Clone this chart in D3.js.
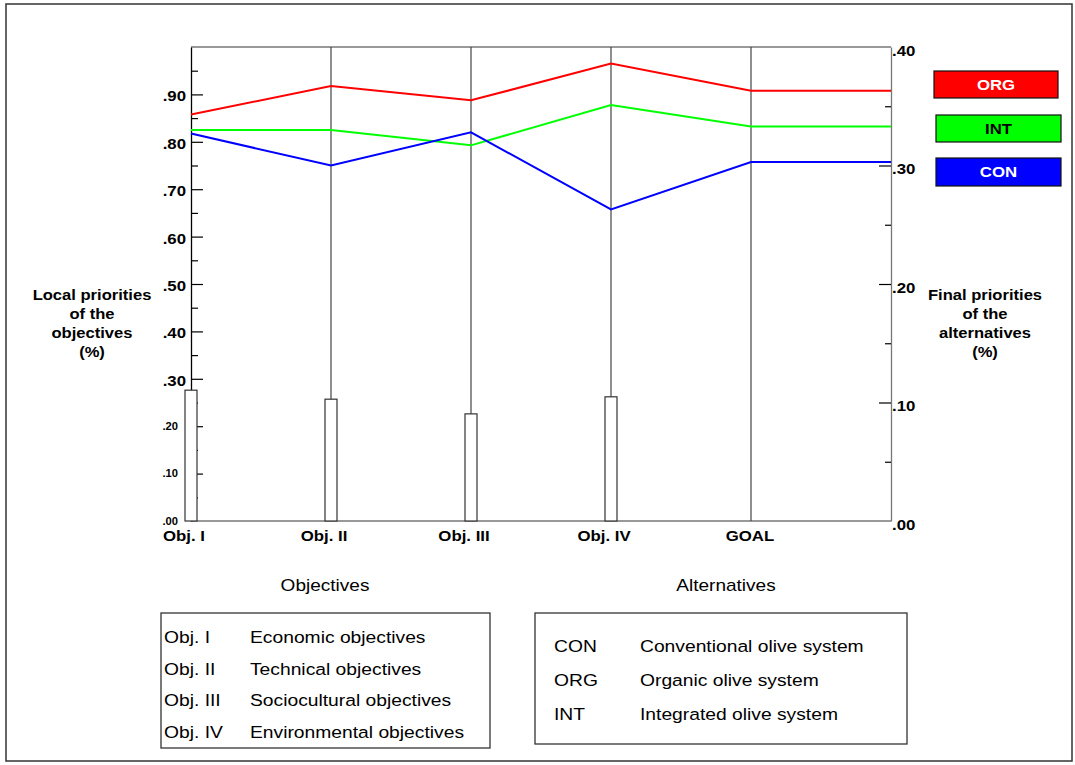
<!DOCTYPE html>
<meta charset="utf-8">
<head>
<style>
  body { margin: 0; background: #fff; }
  svg { display: block; font-family: Arial, "Liberation Sans", sans-serif; }
</style>
</head>
<body>
<div id="chart"></div>
<script src="https://cdn.jsdelivr.net/npm/d3@7"></script>
<script>
// criteria along the x axis (last one is the overall goal)
const criteria = ["Obj. I", "Obj. II", "Obj. III", "Obj. IV", "GOAL"];
// local priorities of the objectives (bars, left scale)
const objWeights = [0.276, 0.257, 0.226, 0.262];
// priorities of the alternatives per criterion (right scale)
const alternatives = ["ORG", "INT", "CON"];
const orgVals = [0.343, 0.367, 0.355, 0.386, 0.363];
const intVals = [0.330, 0.330, 0.317, 0.351, 0.333];
const conVals = [0.327, 0.300, 0.328, 0.263, 0.303];
const altColors = ["#ff0000", "#00ff00", "#0000ff"];
const altTextColors = ["#fff", "#000", "#fff"];

const leftBig = [0.3, 0.4, 0.5, 0.6, 0.7, 0.8, 0.9];
const leftSmall = [0.0, 0.1, 0.2];
const rightTicks = [0.0, 0.1, 0.2, 0.3, 0.4];

const objNames = ["Obj. I", "Obj. II", "Obj. III", "Obj. IV"];
const objDesc = ["Economic objectives", "Technical objectives", "Sociocultural objectives", "Environmental objectives"];
const altCodes = ["CON", "ORG", "INT"];
const altDesc = ["Conventional olive system", "Organic olive system", "Integrated olive system"];

const width = 1075, height = 765;
const K = 1.12; // horizontal stretch of the glyphs in the original
const fmt = v => d3.format(".2f")(v).replace(/^0/, "");

const svg = d3.select("#chart").append("svg")
    .attr("width", width).attr("height", height);

function txt(g, x, y, s, o) {
    return g.append("text")
        .attr("transform", `translate(${x},${y}) scale(${o.k || K},1)`)
        .attr("text-anchor", o.anchor || "start")
        .attr("font-size", o.size)
        .attr("font-weight", o.weight || "normal")
        .attr("fill", o.fill || "#000")
        .text(s);
}

// outer frame
svg.append("rect").attr("x", 6).attr("y", 4).attr("width", 1066).attr("height", 757)
    .attr("fill", "none").attr("stroke", "#333").attr("stroke-width", 1.5);

const x = d3.scaleLinear().domain([0, 5]).range([191, 891]);
const yL = d3.scaleLinear().domain([0, 1]).range([521, 47]);
const yR = d3.scaleLinear().domain([0, 0.4]).range([521, 47]);

// plot box
svg.append("line").attr("x1", 191).attr("x2", 891).attr("y1", 47).attr("y2", 47)
    .attr("stroke", "#777").attr("stroke-width", 1.3);
svg.append("line").attr("x1", 191).attr("x2", 891).attr("y1", 521).attr("y2", 521)
    .attr("stroke", "#777").attr("stroke-width", 1.3);

// vertical criterion lines
svg.append("g").selectAll("line").data(criteria.slice(1)).join("line")
    .attr("x1", (d, i) => x(i + 1)).attr("x2", (d, i) => x(i + 1))
    .attr("y1", 47).attr("y2", 521)
    .attr("stroke", "#444").attr("stroke-width", 1.2);

// left axis ticks (inward)
const leftAxis = svg.append("g").attr("transform", "translate(191,0)")
    .call(d3.axisRight(yL).tickValues(d3.range(1, 10).map(d => d / 10)).tickSize(12).tickSizeOuter(0).tickFormat(""));
svg.append("g").attr("transform", "translate(191,0)")
    .call(d3.axisRight(yL).tickValues(d3.range(1, 20, 2).map(d => d / 20)).tickSize(7).tickFormat(""))
    .call(g => g.select(".domain").remove());
leftAxis.select(".domain").attr("stroke", "#000").attr("stroke-width", 1.3);

// right axis ticks (inward)
const rightAxis = svg.append("g").attr("transform", "translate(891,0)");
rightAxis.call(d3.axisLeft(yR).tickValues([0.1, 0.2, 0.3]).tickSize(12).tickSizeOuter(0).tickFormat(""));
rightAxis.select(".domain").attr("stroke", "#777").attr("stroke-width", 1.3);
svg.append("g").attr("transform", "translate(891,0)")
    .call(d3.axisLeft(yR).tickValues([0.05, 0.15, 0.25, 0.35]).tickSize(6).tickFormat(""))
    .call(g => g.select(".domain").remove());
svg.selectAll(".tick line").attr("stroke", "#000").attr("stroke-width", 1.2);

// bars for objective weights
svg.append("g").selectAll("rect").data(objWeights).join("rect")
    .attr("x", (d, i) => x(i) - 6).attr("width", 12)
    .attr("y", d => yL(d)).attr("height", d => yL(0) - yL(d))
    .attr("fill", "#fff").attr("stroke", "#333").attr("stroke-width", 1.2);

// alternative lines (GOAL value carried to the right axis)
const series = [orgVals, intVals, conVals];
const line = d3.line().x((d, i) => x(i)).y(d => yR(d));
svg.append("g").selectAll("path").data(series).join("path")
    .attr("d", d => line([...d, d[d.length - 1]]))
    .attr("fill", "none")
    .attr("stroke", (d, i) => altColors[i])
    .attr("stroke-width", 2);

// tick labels
const labels = svg.append("g");
leftBig.forEach(v => txt(labels, 186, yL(v) + 7, fmt(v), { size: 15, weight: "bold", anchor: "end" }));
leftSmall.forEach(v => txt(labels, 178, yL(v) + 3.5, fmt(v), { size: 10, weight: "bold", anchor: "end" }));
rightTicks.forEach(v => txt(labels, 892, yR(v) + 8.5, fmt(v), { size: 15, weight: "bold" }));
criteria.forEach((c, i) => txt(labels, x(i) + (i < 4 ? -7 : -1), 541, c, { size: 15, weight: "bold", anchor: "middle" }));

// axis titles
["Local priorities", "of the", "objectives", "(%)"].forEach((s, i) =>
    txt(labels, 92, 300 + i * 19, s, { size: 14.8, weight: "bold", anchor: "middle" }));
["Final priorities", "of the", "alternatives", "(%)"].forEach((s, i) =>
    txt(labels, 985, 300 + i * 19, s, { size: 14.8, weight: "bold", anchor: "middle" }));

// legend boxes
const legendBoxes = [[934, 71, 124, 27], [936, 115, 125, 27], [936, 158, 125, 28]];
const leg = svg.append("g");
alternatives.forEach((a, i) => {
    const b = legendBoxes[i];
    leg.append("rect").attr("x", b[0]).attr("y", b[1]).attr("width", b[2]).attr("height", b[3])
        .attr("fill", altColors[i]).attr("stroke", "#111").attr("stroke-width", 1.2);
    txt(leg, b[0] + b[2] / 2, b[1] + 18.5, a, { size: 15, weight: "bold", anchor: "middle", fill: altTextColors[i] });
});

// bottom captions
txt(labels, 325, 591, "Objectives", { size: 17, anchor: "middle" });
txt(labels, 726, 591, "Alternatives", { size: 17, anchor: "middle" });

// objectives table
const t1 = svg.append("g");
t1.append("rect").attr("x", 161).attr("y", 613).attr("width", 329).attr("height", 135)
    .attr("fill", "none").attr("stroke", "#333").attr("stroke-width", 1.3);
objNames.forEach((n, i) => {
    txt(t1, 164, 643 + i * 31.7, n, { size: 17.2 });
    txt(t1, 250, 643 + i * 31.7, objDesc[i], { size: 17.2 });
});

// alternatives table
const t2 = svg.append("g");
t2.append("rect").attr("x", 535).attr("y", 613).attr("width", 372).attr("height", 131)
    .attr("fill", "none").attr("stroke", "#333").attr("stroke-width", 1.3);
altCodes.forEach((n, i) => {
    txt(t2, 554, 652 + i * 34, n, { size: 17.2 });
    txt(t2, 640, 652 + i * 34, altDesc[i], { size: 17.2 });
});
</script>
</body>
